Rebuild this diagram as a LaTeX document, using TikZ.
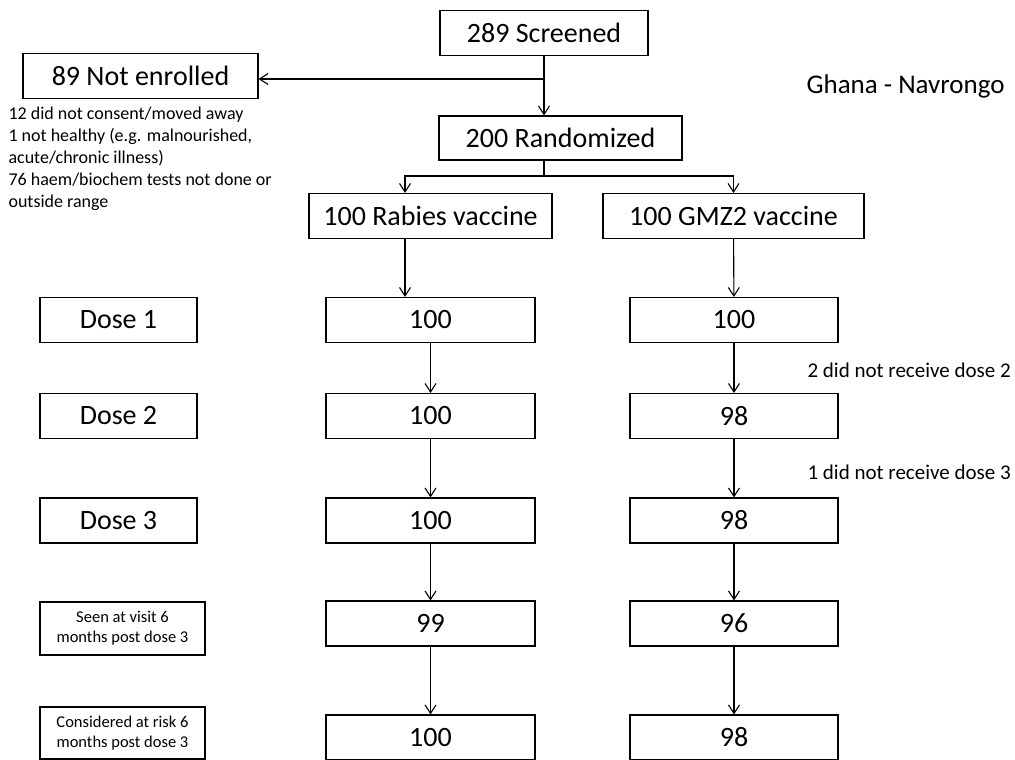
\documentclass[tikz,border=0pt]{standalone}
\usepackage{fontspec}
\setmainfont{Carlito}
\usepackage{tikz}
\usetikzlibrary{arrows.meta, positioning}

\begin{document}
\begin{tikzpicture}[x=1pt, y=-1pt, line width=1.1pt,
    >={Straight Barb[length=8.5pt,width=11pt]},
    box/.style={draw, inner sep=0pt, minimum height=45pt, font=\fontsize{28}{30}\selectfont},
    lbox/.style={draw, inner sep=0pt, align=center, minimum width=165pt, minimum height=53pt, font=\fontsize{16.5}{20}\selectfont},
    note/.style={inner sep=0pt, align=left, font=\fontsize{21}{25}\selectfont}]
  \useasboundingbox (0,0) rectangle (1015,760);
  \node[box, minimum width=208pt] (scr) at (544,33) {289 Screened};
  \node[box, minimum width=235pt] (notenr) at (140.5,76) {89 Not enrolled};
  \node[box, minimum width=243pt, minimum height=44pt] (rand) at (560.5,138) {200 Randomized};
  \node[box, minimum width=243pt] (rab) at (430.5,216) {100 Rabies vaccine};
  \node[box, minimum width=261pt] (gmz) at (733.5,216) {100 GMZ2 vaccine};
  \node[inner sep=0pt, align=left, anchor=north west, font=\fontsize{18}{22}\selectfont] (excl) at (8,106)
    {12 did not consent/moved away\\1 not healthy (e.g. malnourished,\\acute/chronic illness)\\76 haem/biochem tests not done or\\outside range};
  \node[note, anchor=west, font=\fontsize{27}{30}\selectfont] (site) at (806,86) {Ghana - Navrongo};
  \foreach \i/\y/\a/\b in {1/320/100/100, 2/416/100/98, 3/520.5/100/98, 4/623.5/99/96, 5/737.5/100/98} {
    \node[box, minimum width=209pt] (r\i) at (430.5,\y) {\a};
    \node[box, minimum width=208pt] (g\i) at (734,\y) {\b};
  }
  \foreach \i/\y in {1/320, 2/416, 3/520.5}
    \node[box, minimum width=157pt] (d\i) at (118.5,\y) {Dose \i};
  \node[lbox] (seen) at (122.5,628.5) {Seen at visit 6\\months post dose 3};
  \node[lbox, minimum height=52pt] (risk) at (122.5,733) {Considered at risk 6\\months post dose 3};
  \node[note, anchor=west] (miss2) at (807,370) {2 did not receive dose 2};
  \node[note, anchor=west] (miss3) at (807,472) {1 did not receive dose 3};
  \coordinate (fork1) at (544,79);
  \coordinate (fork2) at (544,176);
  \draw[->] (scr.south) -- (scr.south |- rand.north);
  \draw[->] (fork1) -- (notenr.east |- fork1);
  \draw (fork2 |- rand.south) -- (fork2);
  \draw[->] (fork2) -| ([xshift=-25.5pt]rab.north);
  \draw[->] (fork2) -| (gmz.north);
  \draw[->] ([xshift=-25.5pt]rab.south) -- ([xshift=-25.5pt]rab.south |- r1.north);
  \draw[->] (gmz) -- (g1);
  \foreach \i/\j in {1/2, 2/3, 3/4, 4/5} {
    \draw[->] (r\i) -- (r\j);
    \draw[->] (g\i) -- (g\j);
  }
\end{tikzpicture}
\end{document}
